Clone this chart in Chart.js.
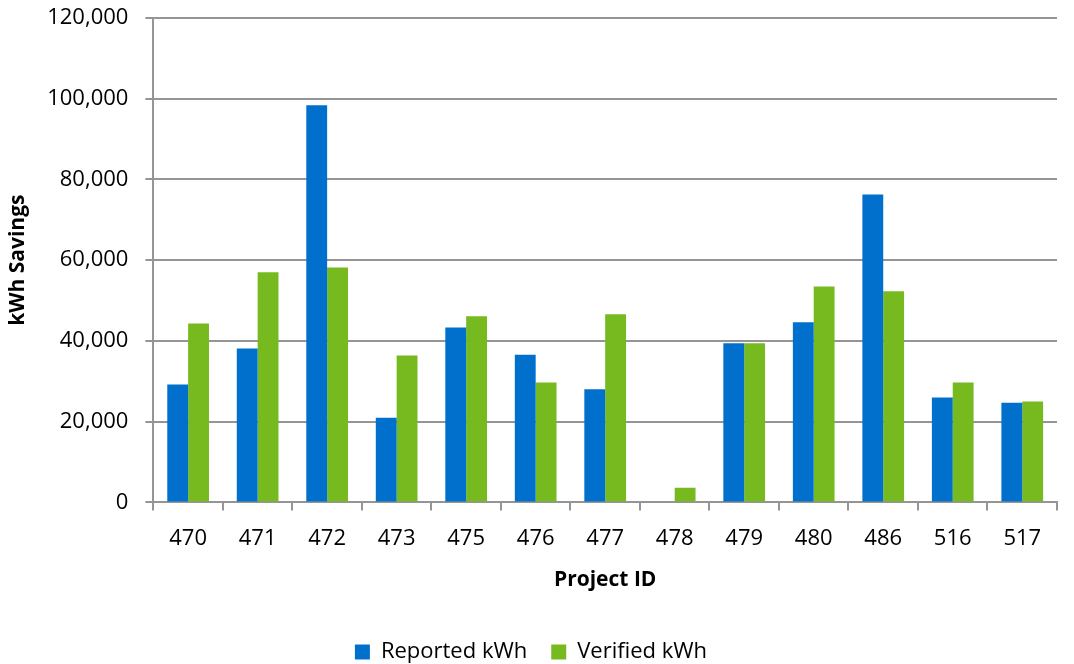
<!DOCTYPE html>
<html>
<head>
<meta charset="utf-8">
<script src="https://cdn.jsdelivr.net/npm/chart.js@4"></script>
<style>
  html, body { margin: 0; padding: 0; background: #fff; }
  #wrap { width: 1074px; height: 664px; }
</style>
</head>
<body>
<div id="wrap"><canvas id="chart"></canvas></div>
<script>
const projectIds = ['470', '471', '472', '473', '475', '476', '477', '478', '479', '480', '486', '516', '517'];
const reportedKwh = [29200, 38100, 98400, 21000, 43300, 36600, 28000, 0, 39400, 44600, 76300, 26000, 24700];
const verifiedKwh = [44300, 57000, 58200, 36400, 46100, 29700, 46600, 3600, 39400, 53500, 52300, 29700, 25000];

const FONT = '"Open Sans", "Noto Sans", sans-serif';
const gridGray = '#959595';

Chart.defaults.font.family = FONT;
Chart.defaults.color = '#000';

new Chart(document.getElementById('chart'), {
  type: 'bar',
  data: {
    labels: projectIds,
    datasets: [
      { label: 'Reported kWh', data: reportedKwh, backgroundColor: '#0070CC' },
      { label: 'Verified kWh', data: verifiedKwh, backgroundColor: '#77BA1F' },
    ],
  },
  options: {
    responsive: true,
    maintainAspectRatio: false,
    animation: false,
    categoryPercentage: 0.6,
    barPercentage: 1.0,
    layout: { padding: { left: 5, right: 17, top: 0, bottom: -9 } },
    plugins: {
      tooltip: { enabled: false },
      legend: {
        position: 'bottom',
        labels: {
          font: { size: 22 },
          boxWidth: 15,
          boxHeight: 15,
          padding: 24,
        },
      },
    },
    scales: {
      x: {
        grid: { display: true, drawOnChartArea: false, color: gridGray, lineWidth: 2, tickLength: 8 },
        border: { color: gridGray, width: 2 },
        ticks: { font: { size: 22 }, padding: 15, maxRotation: 0 },
        title: {
          display: true,
          text: 'Project ID',
          font: { size: 21, weight: 'bold' },
          padding: { top: 1, bottom: 24 },
        },
      },
      y: {
        min: 0,
        max: 120000,
        afterFit: (s) => { s.paddingTop = 18; s.paddingBottom = 0; },
        ticks: {
          stepSize: 20000,
          font: { size: 22 },
          padding: 17,
          callback: (v) => v.toLocaleString('en-US'),
        },
        grid: { color: gridGray, lineWidth: 2, tickLength: 8 },
        border: { color: gridGray, width: 2 },
        title: {
          display: true,
          text: 'kWh Savings',
          font: { size: 21, weight: 'bold' },
          padding: { top: 0, bottom: 0 },
        },
      },
    },
  },
});
</script>
</body>
</html>
